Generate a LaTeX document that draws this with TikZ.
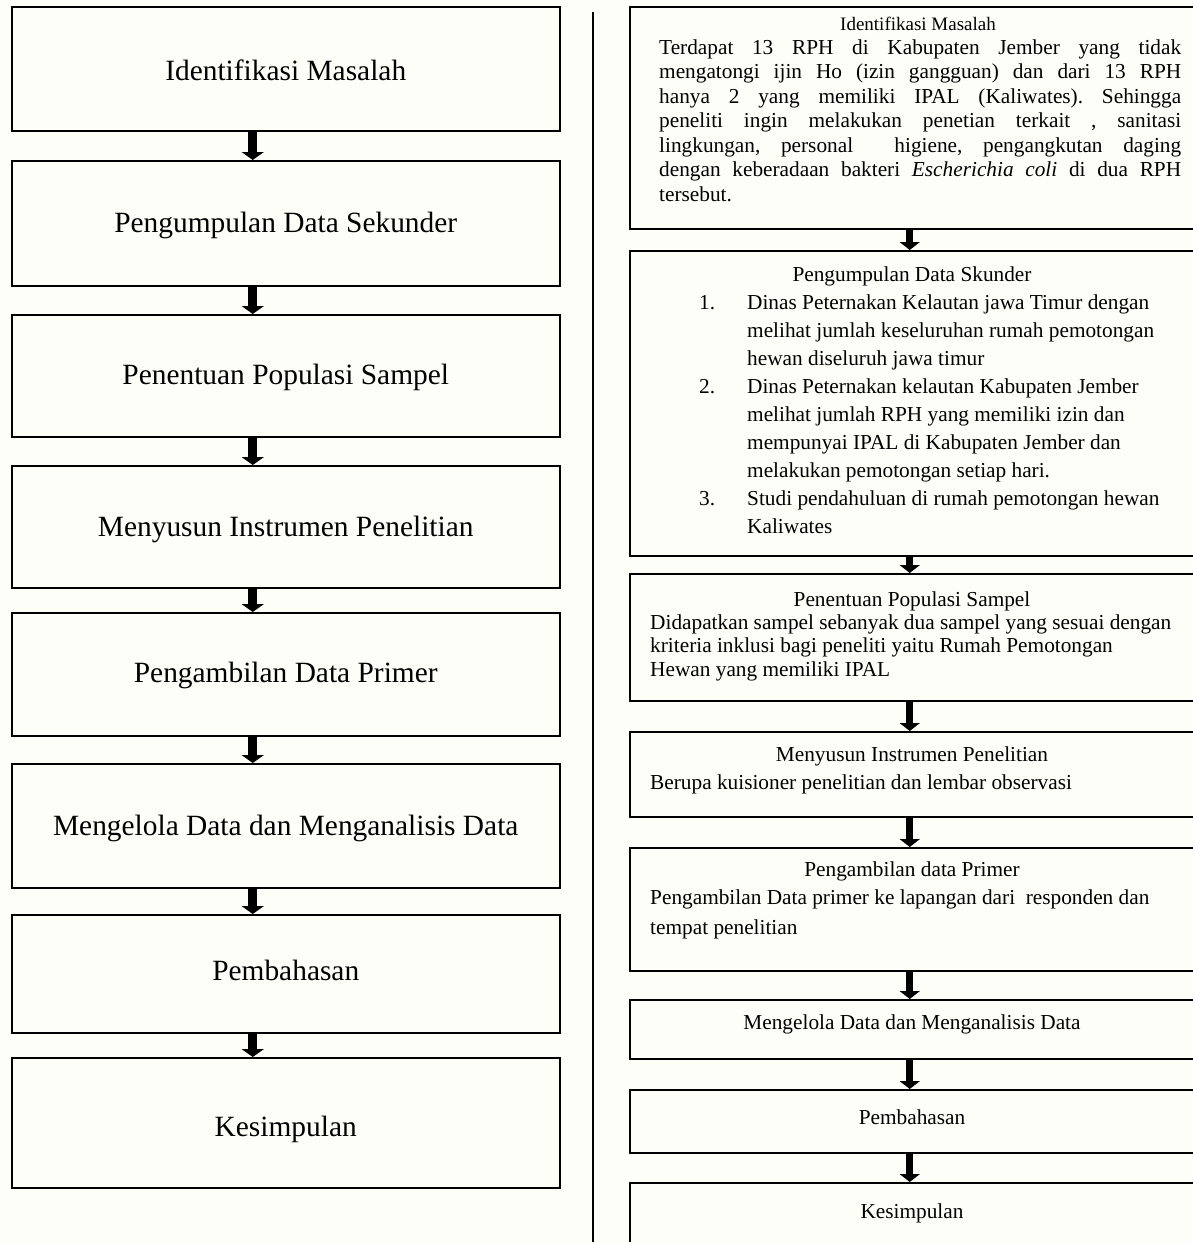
\documentclass[tikz,border=0pt]{standalone}
\usepackage{fontspec}
\setmainfont{Liberation Serif}
\usetikzlibrary{arrows.meta}
\definecolor{bgc}{RGB}{254,254,249}
\frenchspacing
\begin{document}
\begin{tikzpicture}[x=1pt,y=-1pt,
  lbox/.style={draw, line width=1.5pt, minimum width=548pt, inner sep=0pt, anchor=north west,
    font=\fontsize{29.4}{34}\selectfont, text height=20pt, text depth=6pt},
  rbox/.style={draw, line width=1.5pt, minimum width=568pt, inner sep=0pt, anchor=north west},
  ttl/.style={anchor=base, inner sep=0pt, font=\fontsize{21.3}{24.5}\selectfont},
  body/.style={anchor=north west, inner sep=0pt, align=left},
  larrow/.style={line width=9pt, -{Triangle[width=22pt,length=8pt]}},
  rarrow/.style={line width=7pt, -{Triangle[width=20pt,length=8pt]}}]
\useasboundingbox (0,0) rectangle (1193,1242);
\fill[bgc] (0,0) rectangle (1193,1242);
\clip (0,0) rectangle (1193,1242);

% left column
\node[lbox, minimum height=124pt] (l1) at (11,6) {\raisebox{-5pt}{Identifikasi Masalah}};
\node[lbox, minimum height=125pt] (l2) at (11,160) {\raisebox{-2pt}{Pengumpulan Data Sekunder}};
\node[lbox, minimum height=122pt] (l3) at (11,314) {\raisebox{-2pt}{Penentuan Populasi Sampel}};
\node[lbox, minimum height=122pt] (l4) at (11,465) {\raisebox{-3pt}{Menyusun Instrumen Penelitian}};
\node[lbox, minimum height=123pt] (l5) at (11,612) {\raisebox{-1pt}{Pengambilan Data Primer}};
\node[lbox, minimum height=124pt] (l6) at (11,763) {\raisebox{-3pt}{Mengelola Data dan Menganalisis Data}};
\node[lbox, minimum height=118pt] (l7) at (11,914) {Pembahasan};
\node[lbox, minimum height=130pt] (l8) at (11,1057) {\raisebox{-7pt}{Kesimpulan}};

\foreach \a/\b in {l1/l2,l2/l3,l3/l4,l4/l5,l5/l6,l6/l7,l7/l8}
  \draw[larrow] ([xshift=-33pt]\a.south) -- ([xshift=-33pt]\b.north);

% separator
\coordinate (s1) at (593,12);
\coordinate (s2) at (593,1250);
\draw[line width=1.5pt] (s1) -- (s2);

% right column boxes
\node[rbox, minimum height=222pt] (r1) at (629,6) {};
\node[rbox, minimum height=305pt] (r2) at (629,250) {};
\node[rbox, minimum height=127pt] (r3) at (629,573) {};
\node[rbox, minimum height=85pt] (r4) at (629,731) {};
\node[rbox, minimum height=123pt] (r5) at (629,847) {};
\node[rbox, minimum height=59pt] (r6) at (629,999) {};
\node[rbox, minimum height=63pt] (r7) at (629,1089) {};
\node[rbox, minimum height=90pt] (r8) at (629,1182) {};

\foreach \a/\b in {r1/r2,r2/r3,r3/r4,r4/r5,r5/r6,r6/r7,r7/r8}
  \draw[rarrow] ([xshift=-4pt]\a.south) -- ([xshift=-4pt]\b.north);

% right column texts
\node[ttl, font=\fontsize{19}{22}\selectfont] (r1t) at (918,30) {Identifikasi Masalah};
\node[body, text width=522pt, align=justify,
  font=\fontsize{21.3}{24.5}\selectfont] (r1b) at (659,39.5)
  {Terdapat 13 RPH di Kabupaten Jember yang tidak\linebreak
   mengatongi ijin Ho (izin gangguan) dan dari 13 RPH\linebreak
   hanya 2 yang memiliki IPAL (Kaliwates). Sehingga\linebreak
   peneliti ingin melakukan penetian terkait , sanitasi\linebreak
   lingkungan, personal\ \ higiene, pengangkutan daging\linebreak
   dengan keberadaan bakteri \textit{Escherichia coli} di dua RPH\linebreak
   tersebut.};

\node[ttl] (r2t) at (912,281) {Pengumpulan Data Skunder};
\node[body, font=\fontsize{21.3}{28}\selectfont] (r2b) at (699,294.5)
  {\makebox[48pt][l]{1.}Dinas Peternakan Kelautan jawa Timur dengan\\
   \hspace*{48pt}melihat jumlah keseluruhan rumah pemotongan\\
   \hspace*{48pt}hewan diseluruh jawa timur\\
   \makebox[48pt][l]{2.}Dinas Peternakan kelautan Kabupaten Jember\\
   \hspace*{48pt}melihat jumlah RPH yang memiliki izin dan\\
   \hspace*{48pt}mempunyai IPAL di Kabupaten Jember dan\\
   \hspace*{48pt}melakukan pemotongan setiap hari.\\
   \makebox[48pt][l]{3.}Studi pendahuluan di rumah pemotongan hewan\\
   \hspace*{48pt}Kaliwates};

\node[ttl] (r3t) at (912,606) {Penentuan Populasi Sampel};
\node[body, font=\fontsize{21.3}{23.5}\selectfont] (r3b) at (650,614.5)
  {Didapatkan sampel sebanyak dua sampel yang sesuai dengan\\
   kriteria inklusi bagi peneliti yaitu Rumah Pemotongan\\
   Hewan yang memiliki IPAL};

\node[ttl] (r4t) at (912,761) {Menyusun Instrumen Penelitian};
\node[body, font=\fontsize{21.3}{24.5}\selectfont] (r4b) at (650,774.5)
  {Berupa kuisioner penelitian dan lembar observasi};

\node[ttl] (r5t) at (912,876) {Pengambilan data Primer};
\node[body, font=\fontsize{21.3}{30}\selectfont] (r5b) at (650,889.5)
  {Pengambilan Data primer ke lapangan dari\ \ responden dan\\
   tempat penelitian};

\node[ttl] (r6t) at (912,1029) {Mengelola Data dan Menganalisis Data};
\node[ttl] (r7t) at (912,1124) {Pembahasan};
\node[ttl] (r8t) at (912,1218) {Kesimpulan};
\end{tikzpicture}
\end{document}
